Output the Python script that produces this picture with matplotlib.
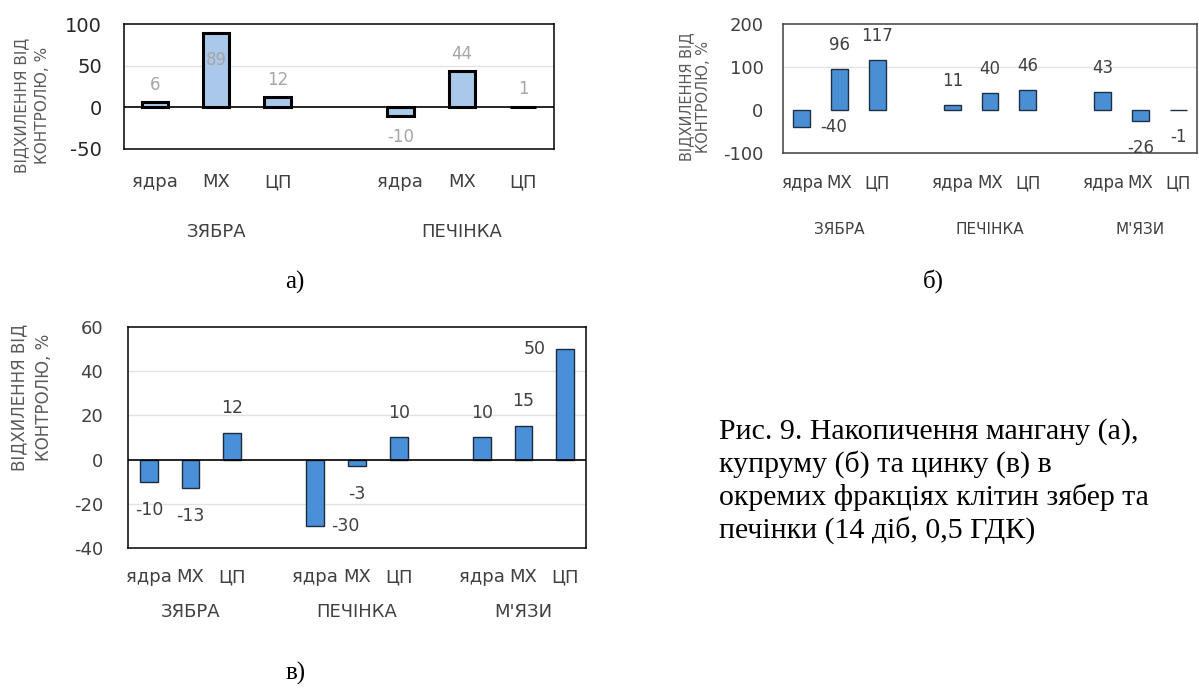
import matplotlib
matplotlib.use('Agg')
import matplotlib.pyplot as plt
from matplotlib.transforms import blended_transform_factory as btf

# ---------------- data ----------------
fractions = ["ядра", "МХ", "ЦП"]
groups_a = ["ЗЯБРА", "ПЕЧІНКА"]
groups_bc = ["ЗЯБРА", "ПЕЧІНКА", "М'ЯЗИ"]

mn_gills = [6, 89, 12]
mn_liver = [-10, 44, 1]

cu_gills = [-40, 96, 117]
cu_liver = [11, 40, 46]
cu_muscle = [43, -26, -1]

zn_gills = [-10, -13, 12]
zn_liver = [-30, -3, 10]
zn_muscle = [10, 15, 50]

yticks_a = [-50, 0, 50, 100]
yticks_b = [-100, 0, 100, 200]
yticks_c = [-40, -20, 0, 20, 40, 60]

ylabel = "ВІДХИЛЕННЯ ВІД\nКОНТРОЛЮ, %"
caption = ("Рис. 9. Накопичення мангану (а),\n"
           "купруму (б) та цинку (в) в\n"
           "окремих фракціях клітин зябер та\n"
           "печінки (14 діб, 0,5 ГДК)")

# ---------------- figure ----------------
W, H = 1199, 688
fig = plt.figure(figsize=(W / 100, H / 100), dpi=100)
SANS = ['DejaVu Sans']
SERIF = ['Liberation Serif', 'DejaVu Serif']


def axes_px(l, t, r, b):
    return fig.add_axes([l / W, 1 - b / H, (r - l) / W, (b - t) / H])


def panel(ax, groups, series, yticks, grid, st):
    n = len(groups)
    ax.set_xlim(-0.5, n * 4 - 1.5)
    ax.set_ylim(yticks[0], yticks[-1])
    for g in grid:
        ax.axhline(g, color='#e3e3e3', lw=1, zorder=0)
    if st['zero']:
        ax.axhline(0, color='black', lw=1.2, zorder=3)
    xs, vs = [], []
    for gi, vals in enumerate(series):
        for fi, v in enumerate(vals):
            xs.append(gi * 4 + fi)
            vs.append(v)
    ax.bar(xs, vs, width=st['width'], color=st['face'], edgecolor=st['edge'],
           linewidth=st['elw'], zorder=2)
    # y ticks
    ax.set_yticks(yticks)
    ax.set_yticklabels([str(t) for t in yticks], fontsize=st['tfs'],
                       color=st['tcol'], family=SANS)
    ax.tick_params(axis='y', length=0, pad=st['tpad'])
    ax.set_xticks([])
    for s in ax.spines.values():
        s.set_color(st['frame'])
        s.set_linewidth(1.1)
    # value labels
    fig.canvas.draw()
    bbox = ax.get_window_extent()
    for x, v in zip(xs, vs):
        px, py = ax.transData.transform((x, v))
        dy = st['above'] if v >= 0 else -st['below']
        dx = 0
        cy = py + dy
        if cy > bbox.y1 or cy < bbox.y0:
            if st['overflow'] == 'inside':
                dy = -st['inside'] if v >= 0 else st['inside']
            else:
                dy = 0
                dx = -st['side'] if v >= 0 else st['side']
        ax.annotate(str(v), xy=(x, v), xytext=(dx, dy), textcoords='offset pixels',
                    ha='center', va='center', fontsize=st['lfs'], color=st['lcol'],
                    family=SANS, zorder=5, annotation_clip=False)
    # category labels
    tr = btf(ax.transData, ax.transAxes)
    for x in xs:
        ax.annotate(fractions[x % 4], xy=(x, 0), xycoords=tr, xytext=(0, -st['cat_dy']),
                    textcoords='offset pixels', ha='center', va='center',
                    fontsize=st['cfs'], color='#404040', family=SANS)
    for gi, g in enumerate(groups):
        ax.annotate(g, xy=(gi * 4 + 1, 0), xycoords=tr, xytext=(0, -st['grp_dy']),
                    textcoords='offset pixels', ha='center', va='center',
                    fontsize=st['gfs'], color='#404040', family=SANS)


# ---- panel a ----
ax_a = axes_px(124, 24, 554, 149)
panel(ax_a, groups_a, [mn_gills, mn_liver], yticks_a, [50],
      dict(zero=True, width=0.43, face='#a9c8ea', edge='black', elw=2.2,
           tfs=14, tcol='#262626', tpad=16, frame='black',
           above=17, below=21, overflow='inside', inside=27, side=0,
           lfs=12, lcol='#a6a6a6', cat_dy=33, cfs=13, grp_dy=83, gfs=13))
fig.text(32 / W, 1 - 105 / H, ylabel, rotation=90, ha='center', va='center',
         ma='center', fontsize=11, color='#595959', family=SANS, linespacing=1.45)
fig.text(295 / W, 1 - 282 / H, "а)", ha='center', va='center', fontsize=18,
         family=SERIF, color='black')

# ---- panel b ----
ax_b = axes_px(783, 24, 1197, 153)
panel(ax_b, groups_bc, [cu_gills, cu_liver, cu_muscle], yticks_b, [100],
      dict(zero=False, width=0.45, face='#4a8fd4', edge='#1f2f45', elw=1.0,
           tfs=13, tcol='#404040', tpad=14, frame='#404040',
           above=24, below=27, overflow='side', inside=0, side=32,
           lfs=12, lcol='#404040', cat_dy=30, cfs=12, grp_dy=76, gfs=11))
fig.text(695 / W, 1 - 97 / H, ylabel, rotation=90, ha='center', va='center',
         ma='center', fontsize=10.5, color='#595959', family=SANS, linespacing=1.1)
fig.text(933 / W, 1 - 281 / H, "б)", ha='center', va='center', fontsize=18,
         family=SERIF, color='black')

# ---- panel c ----
ax_c = axes_px(128, 327, 586, 548)
panel(ax_c, groups_bc, [zn_gills, zn_liver, zn_muscle], yticks_c, [-20, 20, 40],
      dict(zero=True, width=0.43, face='#4a90d9', edge='#1e2b3c', elw=1.0,
           tfs=13, tcol='#404040', tpad=18, frame='black',
           above=25, below=28, overflow='side', inside=0, side=30,
           lfs=12.5, lcol='#404040', cat_dy=29, cfs=13, grp_dy=64, gfs=13))
fig.text(32 / W, 1 - 397 / H, ylabel, rotation=90, ha='center', va='center',
         ma='center', fontsize=12, color='#595959', family=SANS, linespacing=1.45)
fig.text(296 / W, 1 - 673 / H, "в)", ha='center', va='center', fontsize=18,
         family=SERIF, color='black')

# ---- caption ----
fig.text(719 / W, 1 - 418 / H, caption, ha='left', va='top', fontsize=21.5,
         family=SERIF, color='black', linespacing=1.24)

fig.savefig('out.png', dpi=100, facecolor='white')
